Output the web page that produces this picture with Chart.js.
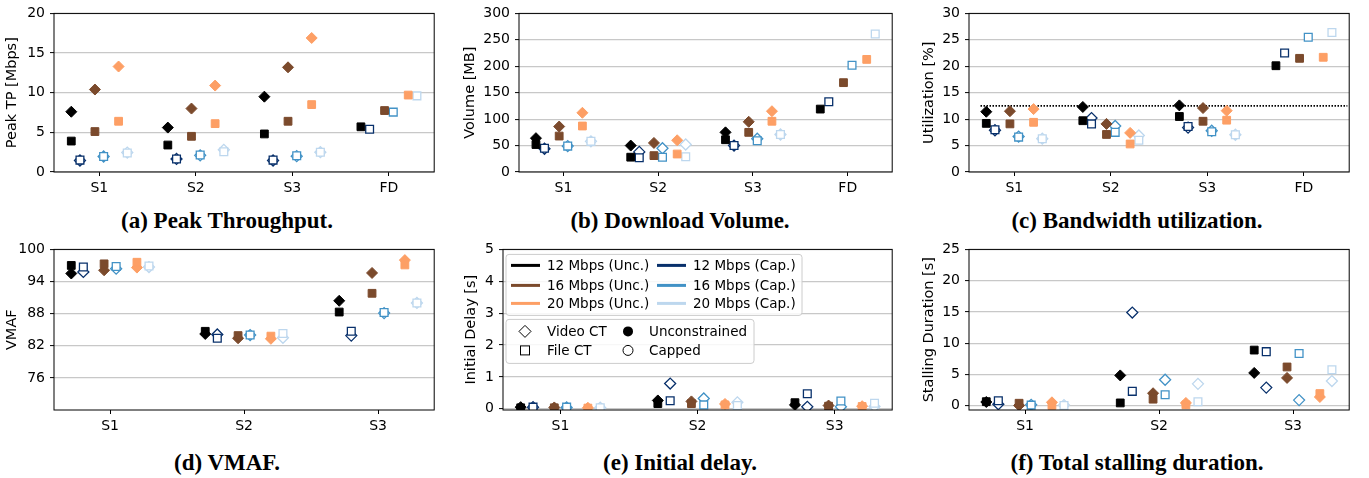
<!DOCTYPE html>
<html>
<head>
<meta charset="utf-8">
<script src="https://cdn.jsdelivr.net/npm/chart.js@4.4.0/dist/chart.umd.min.js"></script>
<style>
  body { margin: 0; background: #fff; width: 1369px; height: 478px; position: relative; overflow: hidden; }
  canvas { position: absolute; }
  .cap { position: absolute; font: bold 23px 'Liberation Serif', 'DejaVu Serif', serif; line-height: 23px;
         transform: translateX(-50%); white-space: nowrap; color: #000; }
</style>
</head>
<body>
<script>
// categories
var cats4 = ['S1', 'S2', 'S3', 'FD'];
var cats3 = ['S1', 'S2', 'S3'];

// series (order = left to right inside a group)
var seriesNames = ['12 Mbps (Unc.)', '12 Mbps (Cap.)', '16 Mbps (Unc.)', '16 Mbps (Cap.)', '20 Mbps (Unc.)', '20 Mbps (Cap.)'];
var seriesColors = ['#000000', '#08306b', '#7b4a2c', '#4292c6', '#fd9f65', '#bdd7ee'];
var seriesCapped = [false, true, false, true, false, true];
var seriesOffset = [-0.29, -0.2, -0.045, 0.045, 0.2, 0.29];

// (a) peak throughput [Mbps]  rows = series, cols = categories
var peakVideo = [[7.6, 5.6, 9.5, null], [1.45, 1.65, 1.45, null], [10.4, 8.0, 13.2, null],
                 [1.95, 2.1, 2.0, null], [13.3, 10.9, 16.9, null], [2.45, 2.8, 2.5, null]];
var peakFile = [[3.9, 3.4, 4.8, 5.7], [1.5, 1.65, 1.5, 5.4], [5.1, 4.5, 6.4, 7.75],
                [1.95, 2.15, 2.05, 7.55], [6.4, 6.1, 8.5, 9.7], [2.4, 2.55, 2.5, 9.6]];
var peakTicks = [0, 5, 10, 15, 20];

// (b) download volume [MB]
var volVideo = [[64, 50, 75, null], [44, 38, 50, null], [86, 55, 95, null],
                [49, 45, 63, null], [112, 60, 115, null], [58, 52, 71, null]];
var volFile = [[52, 28, 61, 119], [45, 27, 50, 133], [68, 31, 75, 169],
               [49, 28, 59, 202], [87, 34, 96, 213], [58, 29, 71, 261]];
var volTicks = [0, 50, 100, 150, 200, 250, 300];

// (c) bandwidth utilization [%]
var utilVideo = [[11.4, 12.3, 12.6, null], [7.9, 10.2, 8.4, null], [11.5, 9.1, 12.1, null],
                 [6.7, 8.7, 7.8, null], [11.9, 7.4, 11.6, null], [6.3, 6.9, 7.05, null]];
var utilFile = [[9.2, 9.7, 10.5, 20.1], [8.0, 9.1, 8.6, 22.5], [9.1, 7.1, 9.6, 21.5],
                [6.6, 7.5, 7.6, 25.5], [9.4, 5.3, 9.8, 21.7], [6.3, 6.0, 7.05, 26.4]];
var utilTicks = [0, 5, 10, 15, 20, 25, 30];
var utilRef = 12.5;
var utilRefSpan = [-0.35, 3.45];

// (d) VMAF
var vmafVideo = [[95.5, 84.2, 90.4], [95.8, 84.1, 83.9], [96.1, 83.4, 95.6],
                 [96.4, 84.0, 88.1], [96.6, 83.3, 98.0], [96.7, 83.5, 90.0]];
var vmafFile = [[97.0, 84.7, 88.3], [96.7, 83.4, 84.7], [97.3, 83.9, 91.8],
                [96.8, 84.0, 88.2], [97.6, 83.8, 97.1], [96.9, 84.3, 90.0]];
var vmafTicks = [76, 82, 88, 94, 100];

// (e) initial delay [s]
var delayVideo = [[0.05, 0.26, 0.12], [0.05, 0.79, 0.06], [0.04, 0.23, 0.1],
                  [0.04, 0.32, 0.06], [0.03, 0.15, 0.08], [0.03, 0.2, 0.07]];
var delayFile = [[0.03, 0.16, 0.19], [0.05, 0.25, 0.47], [0.03, 0.16, 0.08],
                 [0.05, 0.12, 0.24], [0.02, 0.12, 0.07], [0.03, 0.1, 0.17]];
var delayTicks = [0, 1, 2, 3, 4, 5];

// (f) total stalling duration [s]
var stallVideo = [[0.6, 4.85, 5.25], [0.25, 14.9, 2.9], [0.05, 2.0, 4.45],
                  [0.15, 4.15, 0.9], [0.55, 0.45, 1.4], [0.1, 3.5, 3.95]];
var stallFile = [[0.65, 0.45, 8.9], [0.8, 2.3, 8.65], [0.4, 1.05, 6.2],
                 [0.1, 1.75, 8.35], [0.05, 0.15, 1.95], [0.05, 0.65, 5.75]];
var stallTicks = [0, 5, 10, 15, 20, 25];

Chart.defaults.font.family = "'DejaVu Sans', sans-serif";
Chart.defaults.font.size = 14;
Chart.defaults.color = '#000';

// panel layout: plot area [left, top, right, bottom], distance of y title from axis
var panels = [
  { cats: cats4, video: peakVideo, file: peakFile, yMin: 0, yMax: 20, yTicks: peakTicks,
    title: 'Peak TP [Mbps]', area: [54, 10, 437, 172], d: 41, caption: '(a) Peak Throughput.', cx: 227, cy: 221 },
  { cats: cats4, video: volVideo, file: volFile, yMin: 0, yMax: 300, yTicks: volTicks,
    title: 'Volume [MB]', area: [519, 10, 895, 172], d: 48, caption: '(b) Download Volume.', cx: 680, cy: 221 },
  { cats: cats4, video: utilVideo, file: utilFile, yMin: 0, yMax: 30, yTicks: utilTicks,
    title: 'Utilization [%]', area: [969, 10, 1352, 172], d: 39, caption: '(c) Bandwidth utilization.', cx: 1137, cy: 221, ref: true },
  { cats: cats3, video: vmafVideo, file: vmafFile, yMin: 70, yMax: 100, yTicks: vmafTicks,
    title: 'VMAF', area: [54, 246, 437, 410], d: 41, caption: '(d) VMAF.', cx: 227, cy: 463 },
  { cats: cats3, video: delayVideo, file: delayFile, yMin: -0.04, yMax: 5, yTicks: delayTicks,
    title: 'Initial Delay [s]', area: [503, 246, 895, 410], d: 31, caption: '(e) Initial delay.', cx: 680, cy: 463, legend: true },
  { cats: cats3, video: stallVideo, file: stallFile, yMin: -0.68, yMax: 25, yTicks: stallTicks,
    title: 'Stalling Duration [s]', area: [969, 246, 1352, 410], d: 39, caption: '(f) Total stalling duration.', cx: 1137, cy: 463 }
];

var framePlugin = {
  id: 'frame',
  afterDatasetsDraw: function (chart) {
    var a = chart.chartArea, ctx = chart.ctx;
    ctx.save();
    ctx.strokeStyle = '#000';
    ctx.lineWidth = 1;
    ctx.strokeRect(a.left, a.top, a.right - a.left, a.bottom - a.top);
    ctx.restore();
  }
};

function roundBox(ctx, x, y, w, h, r) {
  ctx.beginPath();
  ctx.moveTo(x + r, y);
  ctx.arcTo(x + w, y, x + w, y + h, r);
  ctx.arcTo(x + w, y + h, x, y + h, r);
  ctx.arcTo(x, y + h, x, y, r);
  ctx.arcTo(x, y, x + w, y, r);
  ctx.closePath();
  ctx.fillStyle = 'rgba(255,255,255,0.85)';
  ctx.fill();
  ctx.strokeStyle = '#cccccc';
  ctx.lineWidth = 1;
  ctx.stroke();
}

var legendPlugin = {
  id: 'twoBoxLegend',
  afterDraw: function (chart) {
    if (!chart.options.plugins.twoBoxLegend.show) return;
    var a = chart.chartArea, ctx = chart.ctx;
    var L = a.left, T = a.top;
    ctx.save();
    ctx.font = "13.5px 'DejaVu Sans', sans-serif";
    ctx.textBaseline = 'middle';
    ctx.textAlign = 'left';
    // box 1: line handles
    roundBox(ctx, L + 3, T + 5, 296, 61, 3);
    var rows = [16, 36, 54];
    for (var s = 0; s < 6; s++) {
      var col = s % 2, row = Math.floor(s / 2);
      var x0 = col === 0 ? L + 8 : L + 154;
      var y = T + rows[row];
      ctx.strokeStyle = seriesColors[s];
      ctx.lineWidth = 3;
      ctx.beginPath();
      ctx.moveTo(x0, y);
      ctx.lineTo(x0 + 29, y);
      ctx.stroke();
      ctx.fillStyle = '#000';
      ctx.fillText(seriesNames[s], x0 + 36, y + 1);
    }
    // box 2: marker handles
    roundBox(ctx, L + 3, T + 70, 248, 44, 3);
    ctx.strokeStyle = '#000';
    ctx.lineWidth = 1;
    var y1 = T + 82, y2 = T + 101;
    ctx.beginPath();
    ctx.moveTo(L + 22, y1 - 6); ctx.lineTo(L + 28, y1); ctx.lineTo(L + 22, y1 + 6); ctx.lineTo(L + 16, y1);
    ctx.closePath(); ctx.stroke();
    ctx.strokeRect(L + 17.5, y2 - 4.5, 9, 9);
    ctx.beginPath(); ctx.arc(L + 125, y1, 5, 0, Math.PI * 2); ctx.fillStyle = '#000'; ctx.fill();
    ctx.beginPath(); ctx.arc(L + 125, y2, 5, 0, Math.PI * 2); ctx.stroke();
    ctx.fillStyle = '#000';
    ctx.fillText('Video CT', L + 44, y1 + 1);
    ctx.fillText('File CT', L + 44, y2 + 1);
    ctx.fillText('Unconstrained', L + 146, y1 + 1);
    ctx.fillText('Capped', L + 146, y2 + 1);
    ctx.restore();
  }
};

function build(p) {
  var yW = Math.round(p.d + 8.7);
  var padTop = 10, padRight = 4, xH = 26;
  var canvas = document.createElement('canvas');
  canvas.width = Math.round(yW + (p.area[2] - p.area[0]) + padRight);
  canvas.height = Math.round(padTop + (p.area[3] - p.area[1]) + xH);
  canvas.style.left = (p.area[0] - yW) + 'px';
  canvas.style.top = (p.area[1] - padTop) + 'px';
  document.body.appendChild(canvas);

  var n = p.cats.length;
  var span = (n - 1) + 2 * 0.29;
  var xMin = -0.29 - 0.05 * span, xMax = (n - 1) + 0.29 + 0.05 * span;

  var datasets = [];
  seriesNames.forEach(function (name, s) {
    [['File CT', p.file, 'rect'], ['Video CT', p.video, 'rectRot']].forEach(function (k) {
      var pts = [];
      k[1][s].forEach(function (v, i) {
        if (v !== null) pts.push({ x: i + seriesOffset[s], y: v });
      });
      datasets.push({
        label: name + ' ' + k[0],
        data: pts,
        pointStyle: k[2],
        pointRadius: 5.5,
        backgroundColor: seriesCapped[s] ? '#ffffff' : seriesColors[s],
        borderColor: seriesColors[s],
        borderWidth: seriesCapped[s] ? 1.3 : 1
      });
    });
  });
  if (p.ref) {
    datasets.push({
      type: 'line', label: 'reference', data: [{ x: utilRefSpan[0], y: utilRef }, { x: utilRefSpan[1], y: utilRef }],
      borderColor: '#000', borderWidth: 1.6, borderDash: [1.5, 1.5], pointRadius: 0, fill: false
    });
  }

  new Chart(canvas.getContext('2d'), {
    type: 'scatter',
    data: { datasets: datasets },
    options: {
      responsive: false,
      animation: false,
      events: [],
      layout: { padding: { top: padTop, right: padRight, left: 0, bottom: 0 } },
      plugins: { legend: { display: false }, tooltip: { enabled: false }, twoBoxLegend: { show: !!p.legend } },
      scales: {
        x: {
          type: 'linear', min: xMin, max: xMax,
          afterBuildTicks: function (sc) { sc.ticks = p.cats.map(function (c, i) { return { value: i }; }); },
          afterFit: function (sc) { sc.height = xH; },
          ticks: { padding: 4, maxRotation: 0, autoSkip: false, callback: function (v, i) { return p.cats[i]; } },
          grid: { drawOnChartArea: false, tickColor: '#000', tickLength: 4, tickWidth: 1 },
          border: { display: false }
        },
        y: {
          min: p.yMin, max: p.yMax,
          afterBuildTicks: function (sc) { sc.ticks = p.yTicks.map(function (v) { return { value: v }; }); },
          afterFit: function (sc) { sc.width = yW; },
          ticks: { padding: 5, autoSkip: false },
          grid: { color: '#c8c8c8', lineWidth: 1.2, tickColor: '#000', tickLength: 4, tickWidth: 1 },
          border: { display: false },
          title: { display: true, text: p.title, padding: 0, font: { size: 14.5 } }
        }
      }
    },
    plugins: [framePlugin, legendPlugin]
  });

  var cap = document.createElement('div');
  cap.className = 'cap';
  cap.textContent = p.caption;
  cap.style.left = p.cx + 'px';
  cap.style.top = (p.cy - 12) + 'px';
  document.body.appendChild(cap);
}

panels.forEach(build);
</script>
</body>
</html>
